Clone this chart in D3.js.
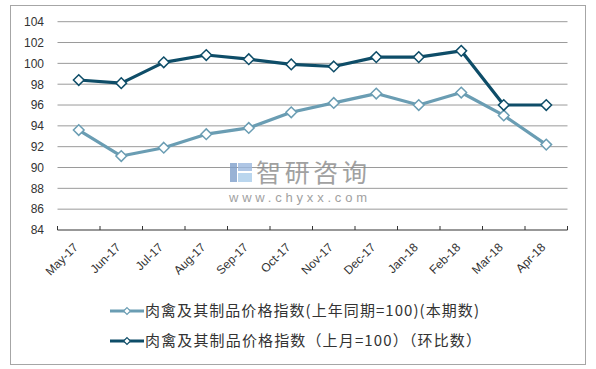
<!DOCTYPE html>
<html><head><meta charset="utf-8">
<script src="https://cdn.jsdelivr.net/npm/d3@7"></script>
<style>body{margin:0;background:#fff}svg{display:block}</style>
</head><body>
<script>
const categories = ["May-17","Jun-17","Jul-17","Aug-17","Sep-17","Oct-17","Nov-17","Dec-17","Jan-18","Feb-18","Mar-18","Apr-18"];
const yoyValues = [93.6,91.1,91.9,93.2,93.8,95.3,96.2,97.1,96.0,97.2,95.0,92.2];
const momValues = [98.4,98.1,100.1,100.8,100.4,99.9,99.7,100.6,100.6,101.2,96.0,96.0];
const yTicks = [84,86,88,90,92,94,96,98,100,102,104];
const seriesNames = ["肉禽及其制品价格指数(上年同期=100)(本期数)","肉禽及其制品价格指数（上月=100）（环比数）"];
const seriesColors = ["#6a9db3","#0e4d68"];

const W=596,H=369;
const svg=d3.select("body").append("svg").attr("width",W).attr("height",H);
svg.append("rect").attr("x",10.5).attr("y",5.5).attr("width",575).attr("height",359).attr("fill","#fff").attr("stroke","#a6a6a6");

const pLeft=57.5,pRight=567.5,pTop=21.7,pBottom=230;
const x=d3.scaleBand().domain(categories).range([pLeft,pRight]);
const y=d3.scaleLinear().domain([84,104]).range([pBottom,pTop]);
const font="Arial, 'Liberation Sans', sans-serif";
const cjk="'Noto Sans CJK SC', sans-serif";

// grid
svg.append("g").selectAll("line").data(yTicks.filter(d=>d>84)).join("line")
  .attr("x1",pLeft).attr("x2",pRight).attr("y1",d=>y(d)).attr("y2",d=>y(d))
  .attr("stroke","#9a9a9a").attr("stroke-width",1);
// y labels
svg.append("g").selectAll("text").data(yTicks).join("text")
  .attr("x",44).attr("y",d=>y(d)).attr("dy","0.36em").attr("text-anchor","end")
  .attr("font-family",font).attr("font-size",12).attr("fill","#333").text(d=>d);
// x axis
svg.append("line").attr("x1",pLeft).attr("x2",pRight).attr("y1",pBottom).attr("y2",pBottom).attr("stroke","#333").attr("stroke-width",1.2);
const bounds=categories.map(c=>x(c)).concat([pRight]);
svg.append("g").selectAll("line").data(bounds).join("line")
  .attr("x1",d=>d).attr("x2",d=>d).attr("y1",pBottom).attr("y2",pBottom-4).attr("stroke","#333");
svg.append("g").selectAll("text").data(categories).join("text")
  .attr("transform",d=>`translate(${x(d)+x.bandwidth()/2-3},${pBottom+15}) rotate(-45)`)
  .attr("text-anchor","end").attr("dy","0.35em")
  .attr("font-family",font).attr("font-size",12).attr("fill","#333").text(d=>d);

// watermark
const wm=svg.append("g").attr("opacity",0.8);
wm.append("rect").attr("x",230).attr("y",163).attr("width",7).attr("height",19).attr("fill","#7f9fcb");
wm.append("rect").attr("x",238).attr("y",163).attr("width",14).attr("height",8).attr("fill","#9cb9df");
wm.append("rect").attr("x",238).attr("y",173).attr("width",14).attr("height",9).attr("fill","#a9cdea");
wm.append("text").attr("x",256).attr("y",182).attr("font-family",cjk).attr("font-size",25).attr("fill","#8a8a8a")
  .attr("textLength",111).attr("lengthAdjust","spacing").text("智研咨询");
wm.append("text").attr("x",229).attr("y",202).attr("font-family",font).attr("font-size",13).attr("fill","#8a8a8a")
  .attr("textLength",138).attr("lengthAdjust","spacing").text("www.chyxx.com");

// series
const line=d3.line().x((d,i)=>x(categories[i])+x.bandwidth()/2).y(d=>y(d));
const diamond=d3.symbol().type(d3.symbolDiamond2).size(72);
[yoyValues,momValues].forEach((vals,si)=>{
  const g=svg.append("g");
  g.append("path").datum(vals).attr("d",line).attr("fill","none").attr("stroke",seriesColors[si]).attr("stroke-width",3.2).attr("stroke-linejoin","round");
  g.selectAll("path.m").data(vals).join("path").attr("class","m")
    .attr("transform",(d,i)=>`translate(${x(categories[i])+x.bandwidth()/2},${y(d)})`)
    .attr("d",diamond).attr("fill","#fff").attr("stroke",seriesColors[si]).attr("stroke-width",1.5);
});

// legend
const legY=[311,341];
const legLen=[334,336];
seriesNames.forEach((n,i)=>{
  const g=svg.append("g");
  g.append("line").attr("x1",110).attr("x2",144).attr("y1",legY[i]).attr("y2",legY[i]).attr("stroke",seriesColors[i]).attr("stroke-width",3);
  g.append("path").attr("transform",`translate(127,${legY[i]})`).attr("d",d3.symbol().type(d3.symbolDiamond2).size(30)).attr("fill","#fff").attr("stroke",seriesColors[i]).attr("stroke-width",1.2);
  g.append("text").attr("x",145).attr("y",legY[i]).attr("dy","0.36em").attr("font-family",cjk).attr("font-size",15).attr("fill","#333")
    .attr("textLength",legLen[i]).attr("lengthAdjust","spacing").text(n);
});
</script>
</body></html>
